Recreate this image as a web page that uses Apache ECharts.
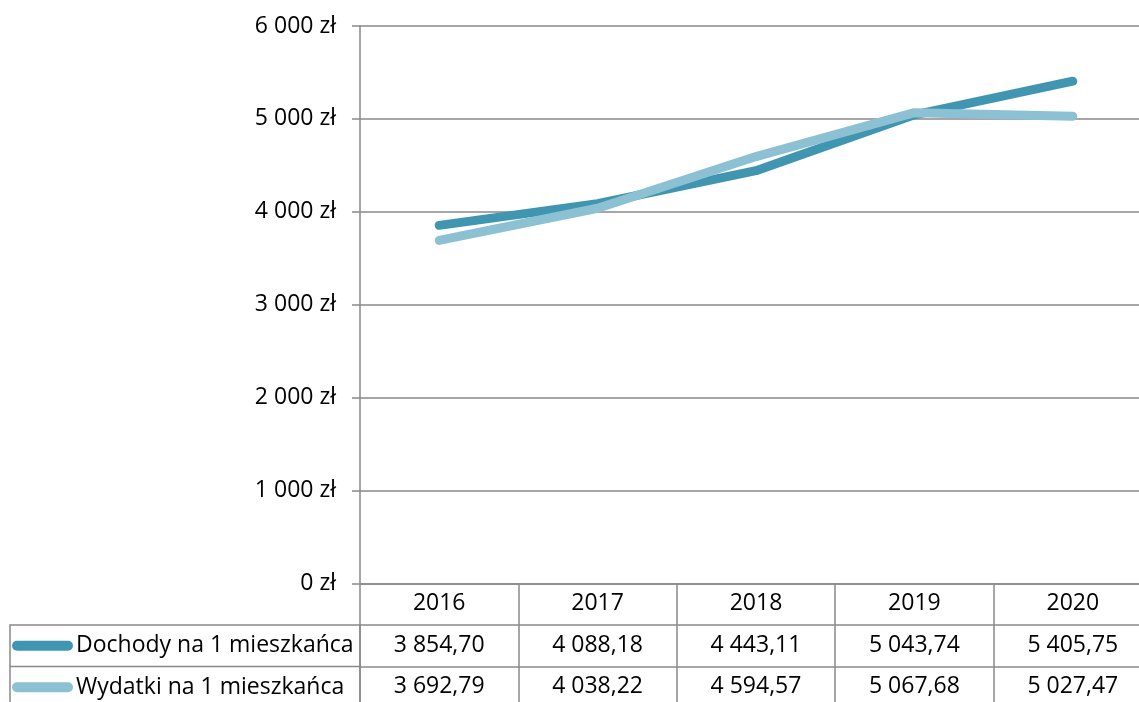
<!DOCTYPE html>
<html>
<head>
<meta charset="utf-8">
<title>Dochody i wydatki na 1 mieszkańca</title>
<script src="https://cdn.jsdelivr.net/npm/echarts@6/dist/echarts.min.js"></script>
<style>
  html, body { margin: 0; padding: 0; background: #fff; overflow: hidden; }
  /* the last table column runs past the right edge of the window */
  #chart { width: 1152px; height: 702px; }
</style>
</head>
<body>
<div id="chart"></div>
<script>
// Data
const years = ['2016', '2017', '2018', '2019', '2020'];
const dochody = [3854.70, 4088.18, 4443.11, 5043.74, 5405.75];
const wydatki = [3692.79, 4038.22, 4594.57, 5067.68, 5027.47];
const seriesNames = ['Dochody na 1 mieszkańca', 'Wydatki na 1 mieszkańca'];
const yMin = 0, yMax = 6000, yStep = 1000;

// Layout and style
const FONT = '"Open Sans", "Noto Sans", sans-serif';
const FONT_SIZE = 23;
const GRID_LEFT = 360, GRID_TOP = 26, GRID_BOTTOM = 583.5;
const COL_W = 158.4;
const ROW_H = 41.5;
const LINE_COLOR = '#898989';
const LINE_W = 1.5;
const COLORS = ['#4096b0', '#8cc0d3'];

// Polish number format: "3 854,70"
function plNumber(v, decimals) {
  const parts = v.toFixed(decimals).split('.');
  const grouped = parts[0].replace(/\B(?=(\d{3})+(?!\d))/g, ' ');
  return parts[1] ? grouped + ',' + parts[1] : grouped;
}

// One category axis per table row, stacked under the plot
function tableAxis(offset, formatter) {
  return {
    type: 'category',
    data: years,
    position: 'bottom',
    offset: offset,
    boundaryGap: true,
    axisLine: { show: true, lineStyle: { color: LINE_COLOR, width: LINE_W } },
    axisTick: { show: true, inside: false, length: ROW_H, lineStyle: { color: LINE_COLOR, width: LINE_W } },
    axisLabel: {
      show: true, margin: ROW_H / 2 - 0.5, verticalAlign: 'middle',
      fontFamily: FONT, fontSize: FONT_SIZE, color: '#000',
      formatter: formatter
    },
    splitLine: { show: false }
  };
}

const chart = echarts.init(document.getElementById('chart'), null, { renderer: 'canvas' });

const tableTop = GRID_BOTTOM + ROW_H;

chart.setOption({
  animation: false,
  backgroundColor: '#fff',
  grid: {
    left: GRID_LEFT,
    top: GRID_TOP,
    width: COL_W * years.length,
    height: GRID_BOTTOM - GRID_TOP
  },
  xAxis: [
    tableAxis(0, (v) => v),
    tableAxis(ROW_H, (v, i) => plNumber(dochody[i], 2)),
    tableAxis(ROW_H * 2, (v, i) => plNumber(wydatki[i], 2))
  ],
  yAxis: {
    type: 'value',
    min: yMin,
    max: yMax,
    interval: yStep,
    axisLine: { show: true, lineStyle: { color: LINE_COLOR, width: LINE_W } },
    axisTick: { show: true, length: 8, lineStyle: { color: LINE_COLOR, width: LINE_W } },
    splitLine: { show: true, lineStyle: { color: LINE_COLOR, width: LINE_W } },
    axisLabel: {
      margin: 24,
      fontFamily: FONT, fontSize: FONT_SIZE, color: '#000',
      formatter: (v) => plNumber(v, 0) + ' zł'
    }
  },
  legend: {
    orient: 'vertical',
    left: 12,
    top: tableTop + ROW_H / 2 - 12,
    padding: 0,
    itemWidth: 61,
    itemHeight: 10,
    itemGap: ROW_H - 24,
    selectedMode: false,
    icon: 'path://M5,0 H56 A5,5 0 0 1 56,10 H5 A5,5 0 0 1 5,0 Z',
    textStyle: { fontFamily: FONT, fontSize: FONT_SIZE, color: '#000', lineHeight: 24, padding: [0, 0, 0, -2] },
    data: seriesNames
  },
  // Border of the legend column of the data table
  graphic: [
    {
      type: 'rect',
      shape: { x: 10, y: tableTop, width: GRID_LEFT - 10, height: ROW_H * 2 },
      style: { fill: 'none', stroke: LINE_COLOR, lineWidth: LINE_W },
      z: 1
    },
    {
      type: 'line',
      shape: { x1: 10, y1: tableTop + ROW_H, x2: GRID_LEFT, y2: tableTop + ROW_H },
      style: { stroke: LINE_COLOR, lineWidth: LINE_W },
      z: 1
    }
  ],
  series: [
    {
      name: seriesNames[0],
      type: 'line',
      data: dochody,
      symbol: 'none',
      color: COLORS[0],
      lineStyle: { width: 9, cap: 'round', join: 'round', color: COLORS[0] },
      z: 3
    },
    {
      name: seriesNames[1],
      type: 'line',
      data: wydatki,
      symbol: 'none',
      color: COLORS[1],
      lineStyle: { width: 9, cap: 'round', join: 'round', color: COLORS[1] },
      z: 4
    }
  ]
});
</script>
</body>
</html>
